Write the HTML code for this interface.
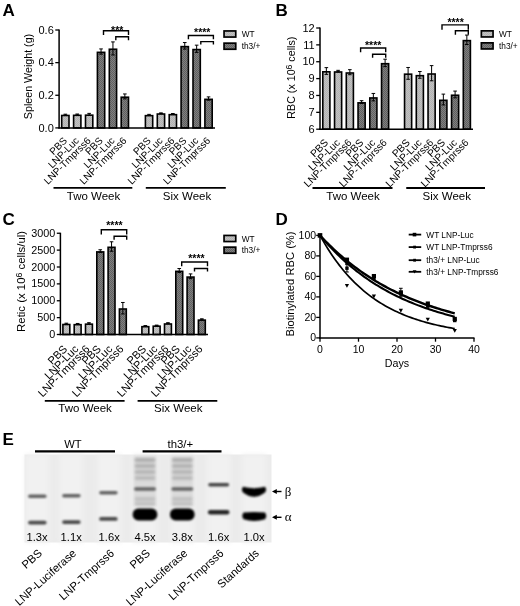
<!DOCTYPE html>
<html><head><meta charset="utf-8"><style>
html,body{margin:0;padding:0;background:#fff;}
svg{display:block;filter:grayscale(1);}
text{font-family:"Liberation Sans", sans-serif;fill:#000;}
</style></head><body>
<svg width="520" height="606" viewBox="0 0 520 606">
<defs>
<pattern id="pl" width="2" height="2" patternUnits="userSpaceOnUse"><rect width="2" height="2" fill="#c2c2c2"/><rect width="1" height="1" fill="#b2b2b2"/><rect x="1" y="1" width="1" height="1" fill="#b2b2b2"/></pattern>
<pattern id="pd" width="2" height="2" patternUnits="userSpaceOnUse"><rect width="2" height="2" fill="#808080"/><rect width="1" height="1" fill="#606060"/><rect x="1" y="1" width="1" height="1" fill="#606060"/></pattern>
<filter id="blur" x="-20%" y="-50%" width="140%" height="200%"><feGaussianBlur stdDeviation="0.9"/></filter>
<filter id="blur2" x="-20%" y="-80%" width="140%" height="260%"><feGaussianBlur stdDeviation="1.6"/></filter>
<filter id="blur3" x="-30%" y="-10%" width="160%" height="120%"><feGaussianBlur stdDeviation="2.5"/></filter>
</defs>
<rect width="520" height="606" fill="#fff"/>
<rect x="61.70" y="115.48" width="7.30" height="12.42" fill="url(#pl)" stroke="#000" stroke-width="1.6"/>
<line x1="65.35" y1="114.19" x2="65.35" y2="115.17" stroke="#000" stroke-width="1.0"/>
<line x1="63.55" y1="114.19" x2="67.15" y2="114.19" stroke="#000" stroke-width="1.0"/>
<line x1="63.55" y1="115.17" x2="67.15" y2="115.17" stroke="#000" stroke-width="1.0"/>
<rect x="73.60" y="115.32" width="7.30" height="12.58" fill="url(#pl)" stroke="#000" stroke-width="1.6"/>
<line x1="77.25" y1="114.03" x2="77.25" y2="115.01" stroke="#000" stroke-width="1.0"/>
<line x1="75.45" y1="114.03" x2="79.05" y2="114.03" stroke="#000" stroke-width="1.0"/>
<line x1="75.45" y1="115.01" x2="79.05" y2="115.01" stroke="#000" stroke-width="1.0"/>
<rect x="85.50" y="115.16" width="7.30" height="12.74" fill="url(#pl)" stroke="#000" stroke-width="1.6"/>
<line x1="89.15" y1="113.38" x2="89.15" y2="115.34" stroke="#000" stroke-width="1.0"/>
<line x1="87.35" y1="113.38" x2="90.95" y2="113.38" stroke="#000" stroke-width="1.0"/>
<line x1="87.35" y1="115.34" x2="90.95" y2="115.34" stroke="#000" stroke-width="1.0"/>
<rect x="97.40" y="52.34" width="7.30" height="75.56" fill="url(#pd)" stroke="#000" stroke-width="1.6"/>
<line x1="101.05" y1="48.93" x2="101.05" y2="54.15" stroke="#000" stroke-width="1.0"/>
<line x1="99.25" y1="48.93" x2="102.85" y2="48.93" stroke="#000" stroke-width="1.0"/>
<line x1="99.25" y1="54.15" x2="102.85" y2="54.15" stroke="#000" stroke-width="1.0"/>
<rect x="109.30" y="49.24" width="7.30" height="78.66" fill="url(#pd)" stroke="#000" stroke-width="1.6"/>
<line x1="112.95" y1="41.91" x2="112.95" y2="54.96" stroke="#000" stroke-width="1.0"/>
<line x1="111.15" y1="41.91" x2="114.75" y2="41.91" stroke="#000" stroke-width="1.0"/>
<line x1="111.15" y1="54.96" x2="114.75" y2="54.96" stroke="#000" stroke-width="1.0"/>
<rect x="121.20" y="97.21" width="7.30" height="30.69" fill="url(#pd)" stroke="#000" stroke-width="1.6"/>
<line x1="124.85" y1="93.96" x2="124.85" y2="98.86" stroke="#000" stroke-width="1.0"/>
<line x1="123.05" y1="93.96" x2="126.65" y2="93.96" stroke="#000" stroke-width="1.0"/>
<line x1="123.05" y1="98.86" x2="126.65" y2="98.86" stroke="#000" stroke-width="1.0"/>
<rect x="145.40" y="115.65" width="7.30" height="12.25" fill="url(#pl)" stroke="#000" stroke-width="1.6"/>
<line x1="149.05" y1="114.36" x2="149.05" y2="115.34" stroke="#000" stroke-width="1.0"/>
<line x1="147.25" y1="114.36" x2="150.85" y2="114.36" stroke="#000" stroke-width="1.0"/>
<line x1="147.25" y1="115.34" x2="150.85" y2="115.34" stroke="#000" stroke-width="1.0"/>
<rect x="157.30" y="114.02" width="7.30" height="13.89" fill="url(#pl)" stroke="#000" stroke-width="1.6"/>
<line x1="160.95" y1="112.89" x2="160.95" y2="113.54" stroke="#000" stroke-width="1.0"/>
<line x1="159.15" y1="112.89" x2="162.75" y2="112.89" stroke="#000" stroke-width="1.0"/>
<line x1="159.15" y1="113.54" x2="162.75" y2="113.54" stroke="#000" stroke-width="1.0"/>
<rect x="169.20" y="114.67" width="7.30" height="13.23" fill="url(#pl)" stroke="#000" stroke-width="1.6"/>
<line x1="172.85" y1="113.54" x2="172.85" y2="114.19" stroke="#000" stroke-width="1.0"/>
<line x1="171.05" y1="113.54" x2="174.65" y2="113.54" stroke="#000" stroke-width="1.0"/>
<line x1="171.05" y1="114.19" x2="174.65" y2="114.19" stroke="#000" stroke-width="1.0"/>
<rect x="181.10" y="46.63" width="7.30" height="81.27" fill="url(#pd)" stroke="#000" stroke-width="1.6"/>
<line x1="184.75" y1="42.56" x2="184.75" y2="49.09" stroke="#000" stroke-width="1.0"/>
<line x1="182.95" y1="42.56" x2="186.55" y2="42.56" stroke="#000" stroke-width="1.0"/>
<line x1="182.95" y1="49.09" x2="186.55" y2="49.09" stroke="#000" stroke-width="1.0"/>
<rect x="193.00" y="49.56" width="7.30" height="78.34" fill="url(#pd)" stroke="#000" stroke-width="1.6"/>
<line x1="196.65" y1="45.17" x2="196.65" y2="52.35" stroke="#000" stroke-width="1.0"/>
<line x1="194.85" y1="45.17" x2="198.45" y2="45.17" stroke="#000" stroke-width="1.0"/>
<line x1="194.85" y1="52.35" x2="198.45" y2="52.35" stroke="#000" stroke-width="1.0"/>
<rect x="204.90" y="99.33" width="7.30" height="28.57" fill="url(#pd)" stroke="#000" stroke-width="1.6"/>
<line x1="208.55" y1="96.90" x2="208.55" y2="100.16" stroke="#000" stroke-width="1.0"/>
<line x1="206.75" y1="96.90" x2="210.35" y2="96.90" stroke="#000" stroke-width="1.0"/>
<line x1="206.75" y1="100.16" x2="210.35" y2="100.16" stroke="#000" stroke-width="1.0"/>
<line x1="59.10" y1="29.50" x2="59.10" y2="128.60" stroke="#000" stroke-width="1.5"/>
<line x1="58.40" y1="127.90" x2="215.00" y2="127.90" stroke="#000" stroke-width="1.5"/>
<line x1="55.30" y1="127.90" x2="59.10" y2="127.90" stroke="#000" stroke-width="1.3"/>
<text x="53.80" y="131.53" font-size="11" text-anchor="end" font-weight="normal" >0.0</text>
<line x1="55.30" y1="95.27" x2="59.10" y2="95.27" stroke="#000" stroke-width="1.3"/>
<text x="53.80" y="98.90" font-size="11" text-anchor="end" font-weight="normal" >0.2</text>
<line x1="55.30" y1="62.63" x2="59.10" y2="62.63" stroke="#000" stroke-width="1.3"/>
<text x="53.80" y="66.26" font-size="11" text-anchor="end" font-weight="normal" >0.4</text>
<line x1="55.30" y1="30.00" x2="59.10" y2="30.00" stroke="#000" stroke-width="1.3"/>
<text x="53.80" y="33.63" font-size="11" text-anchor="end" font-weight="normal" >0.6</text>
<text transform="translate(32.30,76.50) rotate(-90)" font-size="10.7" text-anchor="middle">Spleen Weight (g)</text>
<text transform="translate(67.75,141.30) rotate(-45)" font-size="10.0" text-anchor="end">PBS</text>
<text transform="translate(79.65,141.30) rotate(-45)" font-size="10.0" text-anchor="end">LNP-Luc</text>
<text transform="translate(91.55,141.30) rotate(-45)" font-size="10.0" text-anchor="end">LNP-Tmprss6</text>
<text transform="translate(103.45,141.30) rotate(-45)" font-size="10.0" text-anchor="end">PBS</text>
<text transform="translate(115.35,141.30) rotate(-45)" font-size="10.0" text-anchor="end">LNP-Luc</text>
<text transform="translate(127.25,141.30) rotate(-45)" font-size="10.0" text-anchor="end">LNP-Tmprss6</text>
<text transform="translate(151.45,141.30) rotate(-45)" font-size="10.0" text-anchor="end">PBS</text>
<text transform="translate(163.35,141.30) rotate(-45)" font-size="10.0" text-anchor="end">LNP-Luc</text>
<text transform="translate(175.25,141.30) rotate(-45)" font-size="10.0" text-anchor="end">LNP-Tmprss6</text>
<text transform="translate(187.15,141.30) rotate(-45)" font-size="10.0" text-anchor="end">PBS</text>
<text transform="translate(199.05,141.30) rotate(-45)" font-size="10.0" text-anchor="end">LNP-Luc</text>
<text transform="translate(210.95,141.30) rotate(-45)" font-size="10.0" text-anchor="end">LNP-Tmprss6</text>
<line x1="53.50" y1="187.90" x2="132.30" y2="187.90" stroke="#000" stroke-width="1.9"/>
<text x="93.50" y="199.70" font-size="11.5" text-anchor="middle" font-weight="normal" >Two Week</text>
<line x1="145.80" y1="187.90" x2="225.80" y2="187.90" stroke="#000" stroke-width="1.9"/>
<text x="187.00" y="199.70" font-size="11.5" text-anchor="middle" font-weight="normal" >Six Week</text>
<path d="M103.50,35.10 L103.50,30.70 L128.50,30.70 L128.50,35.10" fill="none" stroke="#000" stroke-width="1.4"/>
<path d="M115.80,40.30 L115.80,36.80 L128.50,36.80 L128.50,40.30" fill="none" stroke="#000" stroke-width="1.4"/>
<text x="117.20" y="33.51" font-size="10.5" text-anchor="middle" font-weight="bold" >***</text>
<path d="M188.40,39.30 L188.40,35.50 L213.40,35.50 L213.40,39.30" fill="none" stroke="#000" stroke-width="1.4"/>
<path d="M200.80,44.50 L200.80,41.60 L213.40,41.60 L213.40,44.50" fill="none" stroke="#000" stroke-width="1.4"/>
<text x="202.30" y="36.41" font-size="10.5" text-anchor="middle" font-weight="bold" >****</text>
<rect x="224.05" y="30.95" width="11.70" height="6.10" fill="url(#pl)" stroke="#000" stroke-width="1.7"/>
<text x="241.70" y="37.10" font-size="8.3" text-anchor="start" font-weight="normal" >WT</text>
<rect x="224.05" y="43.15" width="11.70" height="6.10" fill="url(#pd)" stroke="#000" stroke-width="1.7"/>
<text x="241.70" y="49.30" font-size="8.3" text-anchor="start" font-weight="normal" >th3/+</text>
<text x="2.50" y="16.00" font-size="17" text-anchor="start" font-weight="bold" >A</text>
<rect x="322.80" y="71.81" width="7.10" height="57.39" fill="url(#pl)" stroke="#000" stroke-width="1.6"/>
<line x1="326.35" y1="67.64" x2="326.35" y2="74.38" stroke="#000" stroke-width="1.0"/>
<line x1="324.55" y1="67.64" x2="328.15" y2="67.64" stroke="#000" stroke-width="1.0"/>
<line x1="324.55" y1="74.38" x2="328.15" y2="74.38" stroke="#000" stroke-width="1.0"/>
<rect x="334.55" y="71.98" width="7.10" height="57.22" fill="url(#pl)" stroke="#000" stroke-width="1.6"/>
<line x1="338.10" y1="70.34" x2="338.10" y2="72.02" stroke="#000" stroke-width="1.0"/>
<line x1="336.30" y1="70.34" x2="339.90" y2="70.34" stroke="#000" stroke-width="1.0"/>
<line x1="336.30" y1="72.02" x2="339.90" y2="72.02" stroke="#000" stroke-width="1.0"/>
<rect x="346.30" y="72.99" width="7.10" height="56.21" fill="url(#pl)" stroke="#000" stroke-width="1.6"/>
<line x1="349.85" y1="69.66" x2="349.85" y2="74.72" stroke="#000" stroke-width="1.0"/>
<line x1="348.05" y1="69.66" x2="351.65" y2="69.66" stroke="#000" stroke-width="1.0"/>
<line x1="348.05" y1="74.72" x2="351.65" y2="74.72" stroke="#000" stroke-width="1.0"/>
<rect x="358.05" y="102.84" width="7.10" height="26.36" fill="url(#pd)" stroke="#000" stroke-width="1.6"/>
<line x1="361.60" y1="100.70" x2="361.60" y2="103.39" stroke="#000" stroke-width="1.0"/>
<line x1="359.80" y1="100.70" x2="363.40" y2="100.70" stroke="#000" stroke-width="1.0"/>
<line x1="359.80" y1="103.39" x2="363.40" y2="103.39" stroke="#000" stroke-width="1.0"/>
<rect x="369.80" y="97.95" width="7.10" height="31.25" fill="url(#pd)" stroke="#000" stroke-width="1.6"/>
<line x1="373.35" y1="93.44" x2="373.35" y2="100.86" stroke="#000" stroke-width="1.0"/>
<line x1="371.55" y1="93.44" x2="375.15" y2="93.44" stroke="#000" stroke-width="1.0"/>
<line x1="371.55" y1="100.86" x2="375.15" y2="100.86" stroke="#000" stroke-width="1.0"/>
<rect x="381.55" y="63.71" width="7.10" height="65.49" fill="url(#pd)" stroke="#000" stroke-width="1.6"/>
<line x1="385.10" y1="59.20" x2="385.10" y2="66.62" stroke="#000" stroke-width="1.0"/>
<line x1="383.30" y1="59.20" x2="386.90" y2="59.20" stroke="#000" stroke-width="1.0"/>
<line x1="383.30" y1="66.62" x2="386.90" y2="66.62" stroke="#000" stroke-width="1.0"/>
<rect x="404.55" y="74.17" width="7.10" height="55.03" fill="url(#pl)" stroke="#000" stroke-width="1.6"/>
<line x1="408.10" y1="67.47" x2="408.10" y2="79.27" stroke="#000" stroke-width="1.0"/>
<line x1="406.30" y1="67.47" x2="409.90" y2="67.47" stroke="#000" stroke-width="1.0"/>
<line x1="406.30" y1="79.27" x2="409.90" y2="79.27" stroke="#000" stroke-width="1.0"/>
<rect x="416.30" y="75.69" width="7.10" height="53.51" fill="url(#pl)" stroke="#000" stroke-width="1.6"/>
<line x1="419.85" y1="71.52" x2="419.85" y2="78.26" stroke="#000" stroke-width="1.0"/>
<line x1="418.05" y1="71.52" x2="421.65" y2="71.52" stroke="#000" stroke-width="1.0"/>
<line x1="418.05" y1="78.26" x2="421.65" y2="78.26" stroke="#000" stroke-width="1.0"/>
<rect x="428.05" y="74.00" width="7.10" height="55.20" fill="url(#pl)" stroke="#000" stroke-width="1.6"/>
<line x1="431.60" y1="65.61" x2="431.60" y2="80.79" stroke="#000" stroke-width="1.0"/>
<line x1="429.80" y1="65.61" x2="433.40" y2="65.61" stroke="#000" stroke-width="1.0"/>
<line x1="429.80" y1="80.79" x2="433.40" y2="80.79" stroke="#000" stroke-width="1.0"/>
<rect x="439.80" y="100.31" width="7.10" height="28.89" fill="url(#pd)" stroke="#000" stroke-width="1.6"/>
<line x1="443.35" y1="94.12" x2="443.35" y2="104.91" stroke="#000" stroke-width="1.0"/>
<line x1="441.55" y1="94.12" x2="445.15" y2="94.12" stroke="#000" stroke-width="1.0"/>
<line x1="441.55" y1="104.91" x2="445.15" y2="104.91" stroke="#000" stroke-width="1.0"/>
<rect x="451.55" y="95.25" width="7.10" height="33.95" fill="url(#pd)" stroke="#000" stroke-width="1.6"/>
<line x1="455.10" y1="91.08" x2="455.10" y2="97.83" stroke="#000" stroke-width="1.0"/>
<line x1="453.30" y1="91.08" x2="456.90" y2="91.08" stroke="#000" stroke-width="1.0"/>
<line x1="453.30" y1="97.83" x2="456.90" y2="97.83" stroke="#000" stroke-width="1.0"/>
<rect x="463.30" y="40.61" width="7.10" height="88.59" fill="url(#pd)" stroke="#000" stroke-width="1.6"/>
<line x1="466.85" y1="35.08" x2="466.85" y2="44.53" stroke="#000" stroke-width="1.0"/>
<line x1="465.05" y1="35.08" x2="468.65" y2="35.08" stroke="#000" stroke-width="1.0"/>
<line x1="465.05" y1="44.53" x2="468.65" y2="44.53" stroke="#000" stroke-width="1.0"/>
<line x1="320.00" y1="27.50" x2="320.00" y2="129.90" stroke="#000" stroke-width="1.5"/>
<line x1="319.30" y1="129.20" x2="473.00" y2="129.20" stroke="#000" stroke-width="1.5"/>
<line x1="316.20" y1="129.20" x2="320.00" y2="129.20" stroke="#000" stroke-width="1.3"/>
<text x="314.70" y="132.83" font-size="11" text-anchor="end" font-weight="normal" >6</text>
<line x1="316.20" y1="112.33" x2="320.00" y2="112.33" stroke="#000" stroke-width="1.3"/>
<text x="314.70" y="115.96" font-size="11" text-anchor="end" font-weight="normal" >7</text>
<line x1="316.20" y1="95.47" x2="320.00" y2="95.47" stroke="#000" stroke-width="1.3"/>
<text x="314.70" y="99.10" font-size="11" text-anchor="end" font-weight="normal" >8</text>
<line x1="316.20" y1="78.60" x2="320.00" y2="78.60" stroke="#000" stroke-width="1.3"/>
<text x="314.70" y="82.23" font-size="11" text-anchor="end" font-weight="normal" >9</text>
<line x1="316.20" y1="61.73" x2="320.00" y2="61.73" stroke="#000" stroke-width="1.3"/>
<text x="314.70" y="65.36" font-size="11" text-anchor="end" font-weight="normal" >10</text>
<line x1="316.20" y1="44.87" x2="320.00" y2="44.87" stroke="#000" stroke-width="1.3"/>
<text x="314.70" y="48.50" font-size="11" text-anchor="end" font-weight="normal" >11</text>
<line x1="316.20" y1="28.00" x2="320.00" y2="28.00" stroke="#000" stroke-width="1.3"/>
<text x="314.70" y="31.63" font-size="11" text-anchor="end" font-weight="normal" >12</text>
<text transform="translate(295.00,77.70) rotate(-90)" font-size="10.7" text-anchor="middle">RBC (x 10<tspan dy="-2.8" font-size="8.6">6</tspan><tspan dy="2.8"> cells)</tspan></text>
<text transform="translate(328.85,143.30) rotate(-45)" font-size="10.2" text-anchor="end">PBS</text>
<text transform="translate(340.60,143.30) rotate(-45)" font-size="10.2" text-anchor="end">LNP-Luc</text>
<text transform="translate(352.35,143.30) rotate(-45)" font-size="10.2" text-anchor="end">LNP-Tmprss6</text>
<text transform="translate(364.10,143.30) rotate(-45)" font-size="10.2" text-anchor="end">PBS</text>
<text transform="translate(375.85,143.30) rotate(-45)" font-size="10.2" text-anchor="end">LNP-Luc</text>
<text transform="translate(387.60,143.30) rotate(-45)" font-size="10.2" text-anchor="end">LNP-Tmprss6</text>
<text transform="translate(410.60,143.30) rotate(-45)" font-size="10.2" text-anchor="end">PBS</text>
<text transform="translate(422.35,143.30) rotate(-45)" font-size="10.2" text-anchor="end">LNP-Luc</text>
<text transform="translate(434.10,143.30) rotate(-45)" font-size="10.2" text-anchor="end">LNP-Tmprss6</text>
<text transform="translate(445.85,143.30) rotate(-45)" font-size="10.2" text-anchor="end">PBS</text>
<text transform="translate(457.60,143.30) rotate(-45)" font-size="10.2" text-anchor="end">LNP-Luc</text>
<text transform="translate(469.35,143.30) rotate(-45)" font-size="10.2" text-anchor="end">LNP-Tmprss6</text>
<line x1="312.50" y1="188.00" x2="392.50" y2="188.00" stroke="#000" stroke-width="1.9"/>
<text x="353.00" y="199.80" font-size="11.5" text-anchor="middle" font-weight="normal" >Two Week</text>
<line x1="406.25" y1="188.00" x2="485.00" y2="188.00" stroke="#000" stroke-width="1.9"/>
<text x="446.80" y="199.80" font-size="11.5" text-anchor="middle" font-weight="normal" >Six Week</text>
<path d="M360.60,52.30 L360.60,48.00 L385.70,48.00 L385.70,52.30" fill="none" stroke="#000" stroke-width="1.4"/>
<path d="M372.60,57.70 L372.60,54.20 L385.70,54.20 L385.70,57.70" fill="none" stroke="#000" stroke-width="1.4"/>
<text x="373.20" y="48.51" font-size="10.5" text-anchor="middle" font-weight="bold" >****</text>
<path d="M442.00,29.80 L442.00,24.90 L468.30,24.90 L468.30,29.80" fill="none" stroke="#000" stroke-width="1.4"/>
<path d="M455.40,34.80 L455.40,30.80 L468.30,30.80 L468.30,34.80" fill="none" stroke="#000" stroke-width="1.4"/>
<text x="455.60" y="25.51" font-size="10.5" text-anchor="middle" font-weight="bold" >****</text>
<rect x="481.35" y="30.85" width="11.70" height="6.10" fill="url(#pl)" stroke="#000" stroke-width="1.7"/>
<text x="499.00" y="37.00" font-size="8.3" text-anchor="start" font-weight="normal" >WT</text>
<rect x="481.35" y="42.85" width="11.70" height="6.10" fill="url(#pd)" stroke="#000" stroke-width="1.7"/>
<text x="499.00" y="49.00" font-size="8.3" text-anchor="start" font-weight="normal" >th3/+</text>
<text x="275.50" y="16.00" font-size="17" text-anchor="start" font-weight="bold" >B</text>
<rect x="62.90" y="324.50" width="6.90" height="10.00" fill="url(#pl)" stroke="#000" stroke-width="1.6"/>
<line x1="66.35" y1="323.19" x2="66.35" y2="324.21" stroke="#000" stroke-width="1.0"/>
<line x1="64.55" y1="323.19" x2="68.15" y2="323.19" stroke="#000" stroke-width="1.0"/>
<line x1="64.55" y1="324.21" x2="68.15" y2="324.21" stroke="#000" stroke-width="1.0"/>
<rect x="74.20" y="324.67" width="6.90" height="9.83" fill="url(#pl)" stroke="#000" stroke-width="1.6"/>
<line x1="77.65" y1="323.46" x2="77.65" y2="324.27" stroke="#000" stroke-width="1.0"/>
<line x1="75.85" y1="323.46" x2="79.45" y2="323.46" stroke="#000" stroke-width="1.0"/>
<line x1="75.85" y1="324.27" x2="79.45" y2="324.27" stroke="#000" stroke-width="1.0"/>
<rect x="85.50" y="324.16" width="6.90" height="10.34" fill="url(#pl)" stroke="#000" stroke-width="1.6"/>
<line x1="88.95" y1="322.69" x2="88.95" y2="324.04" stroke="#000" stroke-width="1.0"/>
<line x1="87.15" y1="322.69" x2="90.75" y2="322.69" stroke="#000" stroke-width="1.0"/>
<line x1="87.15" y1="324.04" x2="90.75" y2="324.04" stroke="#000" stroke-width="1.0"/>
<rect x="96.80" y="251.90" width="6.90" height="82.60" fill="url(#pd)" stroke="#000" stroke-width="1.6"/>
<line x1="100.25" y1="249.75" x2="100.25" y2="252.45" stroke="#000" stroke-width="1.0"/>
<line x1="98.45" y1="249.75" x2="102.05" y2="249.75" stroke="#000" stroke-width="1.0"/>
<line x1="98.45" y1="252.45" x2="102.05" y2="252.45" stroke="#000" stroke-width="1.0"/>
<rect x="108.10" y="247.31" width="6.90" height="87.19" fill="url(#pd)" stroke="#000" stroke-width="1.6"/>
<line x1="111.55" y1="241.79" x2="111.55" y2="251.24" stroke="#000" stroke-width="1.0"/>
<line x1="109.75" y1="241.79" x2="113.35" y2="241.79" stroke="#000" stroke-width="1.0"/>
<line x1="109.75" y1="251.24" x2="113.35" y2="251.24" stroke="#000" stroke-width="1.0"/>
<rect x="119.40" y="309.01" width="6.90" height="25.49" fill="url(#pd)" stroke="#000" stroke-width="1.6"/>
<line x1="122.85" y1="302.47" x2="122.85" y2="313.95" stroke="#000" stroke-width="1.0"/>
<line x1="121.05" y1="302.47" x2="124.65" y2="302.47" stroke="#000" stroke-width="1.0"/>
<line x1="121.05" y1="313.95" x2="124.65" y2="313.95" stroke="#000" stroke-width="1.0"/>
<rect x="141.90" y="326.69" width="6.90" height="7.81" fill="url(#pl)" stroke="#000" stroke-width="1.6"/>
<line x1="145.35" y1="325.62" x2="145.35" y2="326.16" stroke="#000" stroke-width="1.0"/>
<line x1="143.55" y1="325.62" x2="147.15" y2="325.62" stroke="#000" stroke-width="1.0"/>
<line x1="143.55" y1="326.16" x2="147.15" y2="326.16" stroke="#000" stroke-width="1.0"/>
<rect x="153.20" y="326.19" width="6.90" height="8.31" fill="url(#pl)" stroke="#000" stroke-width="1.6"/>
<line x1="156.65" y1="325.12" x2="156.65" y2="325.66" stroke="#000" stroke-width="1.0"/>
<line x1="154.85" y1="325.12" x2="158.45" y2="325.12" stroke="#000" stroke-width="1.0"/>
<line x1="154.85" y1="325.66" x2="158.45" y2="325.66" stroke="#000" stroke-width="1.0"/>
<rect x="164.50" y="323.99" width="6.90" height="10.51" fill="url(#pl)" stroke="#000" stroke-width="1.6"/>
<line x1="167.95" y1="322.69" x2="167.95" y2="323.70" stroke="#000" stroke-width="1.0"/>
<line x1="166.15" y1="322.69" x2="169.75" y2="322.69" stroke="#000" stroke-width="1.0"/>
<line x1="166.15" y1="323.70" x2="169.75" y2="323.70" stroke="#000" stroke-width="1.0"/>
<rect x="175.80" y="271.34" width="6.90" height="63.16" fill="url(#pd)" stroke="#000" stroke-width="1.6"/>
<line x1="179.25" y1="268.52" x2="179.25" y2="272.57" stroke="#000" stroke-width="1.0"/>
<line x1="177.45" y1="268.52" x2="181.05" y2="268.52" stroke="#000" stroke-width="1.0"/>
<line x1="177.45" y1="272.57" x2="181.05" y2="272.57" stroke="#000" stroke-width="1.0"/>
<rect x="187.10" y="277.08" width="6.90" height="57.42" fill="url(#pd)" stroke="#000" stroke-width="1.6"/>
<line x1="190.55" y1="273.92" x2="190.55" y2="278.64" stroke="#000" stroke-width="1.0"/>
<line x1="188.75" y1="273.92" x2="192.35" y2="273.92" stroke="#000" stroke-width="1.0"/>
<line x1="188.75" y1="278.64" x2="192.35" y2="278.64" stroke="#000" stroke-width="1.0"/>
<rect x="198.40" y="320.11" width="6.90" height="14.39" fill="url(#pd)" stroke="#000" stroke-width="1.6"/>
<line x1="201.85" y1="318.81" x2="201.85" y2="319.82" stroke="#000" stroke-width="1.0"/>
<line x1="200.05" y1="318.81" x2="203.65" y2="318.81" stroke="#000" stroke-width="1.0"/>
<line x1="200.05" y1="319.82" x2="203.65" y2="319.82" stroke="#000" stroke-width="1.0"/>
<line x1="60.40" y1="232.75" x2="60.40" y2="335.20" stroke="#000" stroke-width="1.5"/>
<line x1="59.70" y1="334.50" x2="208.00" y2="334.50" stroke="#000" stroke-width="1.5"/>
<line x1="56.80" y1="334.50" x2="60.40" y2="334.50" stroke="#000" stroke-width="1.3"/>
<text x="55.30" y="338.06" font-size="10.8" text-anchor="end" font-weight="normal" >0</text>
<line x1="56.80" y1="317.62" x2="60.40" y2="317.62" stroke="#000" stroke-width="1.3"/>
<text x="55.30" y="321.19" font-size="10.8" text-anchor="end" font-weight="normal" >500</text>
<line x1="56.80" y1="300.75" x2="60.40" y2="300.75" stroke="#000" stroke-width="1.3"/>
<text x="55.30" y="304.31" font-size="10.8" text-anchor="end" font-weight="normal" >1000</text>
<line x1="56.80" y1="283.88" x2="60.40" y2="283.88" stroke="#000" stroke-width="1.3"/>
<text x="55.30" y="287.44" font-size="10.8" text-anchor="end" font-weight="normal" >1500</text>
<line x1="56.80" y1="267.00" x2="60.40" y2="267.00" stroke="#000" stroke-width="1.3"/>
<text x="55.30" y="270.56" font-size="10.8" text-anchor="end" font-weight="normal" >2000</text>
<line x1="56.80" y1="250.12" x2="60.40" y2="250.12" stroke="#000" stroke-width="1.3"/>
<text x="55.30" y="253.69" font-size="10.8" text-anchor="end" font-weight="normal" >2500</text>
<line x1="56.80" y1="233.25" x2="60.40" y2="233.25" stroke="#000" stroke-width="1.3"/>
<text x="55.30" y="236.81" font-size="10.8" text-anchor="end" font-weight="normal" >3000</text>
<text transform="translate(25.00,281.40) rotate(-90)" font-size="11.4" text-anchor="middle">Retic (x 10<tspan dy="-2.8" font-size="8.6">6</tspan><tspan dy="2.8"> cells/ul)</tspan></text>
<text transform="translate(67.85,349.70) rotate(-45)" font-size="11.0" text-anchor="end">PBS</text>
<text transform="translate(79.15,349.70) rotate(-45)" font-size="11.0" text-anchor="end">LNP-Luc</text>
<text transform="translate(90.45,349.70) rotate(-45)" font-size="11.0" text-anchor="end">LNP-Tmprss6</text>
<text transform="translate(101.75,349.70) rotate(-45)" font-size="11.0" text-anchor="end">PBS</text>
<text transform="translate(113.05,349.70) rotate(-45)" font-size="11.0" text-anchor="end">LNP-Luc</text>
<text transform="translate(124.35,349.70) rotate(-45)" font-size="11.0" text-anchor="end">LNP-Tmprss6</text>
<text transform="translate(146.85,349.70) rotate(-45)" font-size="11.0" text-anchor="end">PBS</text>
<text transform="translate(158.15,349.70) rotate(-45)" font-size="11.0" text-anchor="end">LNP-Luc</text>
<text transform="translate(169.45,349.70) rotate(-45)" font-size="11.0" text-anchor="end">LNP-Tmprss6</text>
<text transform="translate(180.75,349.70) rotate(-45)" font-size="11.0" text-anchor="end">PBS</text>
<text transform="translate(192.05,349.70) rotate(-45)" font-size="11.0" text-anchor="end">LNP-Luc</text>
<text transform="translate(203.35,349.70) rotate(-45)" font-size="11.0" text-anchor="end">LNP-Tmprss6</text>
<line x1="44.80" y1="400.90" x2="124.60" y2="400.90" stroke="#000" stroke-width="1.9"/>
<text x="85.10" y="412.40" font-size="11.5" text-anchor="middle" font-weight="normal" >Two Week</text>
<line x1="137.60" y1="400.90" x2="217.30" y2="400.90" stroke="#000" stroke-width="1.9"/>
<text x="178.30" y="412.40" font-size="11.5" text-anchor="middle" font-weight="normal" >Six Week</text>
<path d="M101.30,234.60 L101.30,229.80 L126.70,229.80 L126.70,234.60" fill="none" stroke="#000" stroke-width="1.4"/>
<path d="M114.10,239.70 L114.10,236.20 L126.70,236.20 L126.70,239.70" fill="none" stroke="#000" stroke-width="1.4"/>
<text x="114.40" y="229.31" font-size="10.5" text-anchor="middle" font-weight="bold" >****</text>
<path d="M181.70,266.20 L181.70,262.00 L207.50,262.00 L207.50,266.20" fill="none" stroke="#000" stroke-width="1.4"/>
<path d="M194.50,271.50 L194.50,268.50 L207.50,268.50 L207.50,271.50" fill="none" stroke="#000" stroke-width="1.4"/>
<text x="196.40" y="261.81" font-size="10.5" text-anchor="middle" font-weight="bold" >****</text>
<rect x="224.05" y="235.45" width="11.70" height="6.10" fill="url(#pl)" stroke="#000" stroke-width="1.7"/>
<text x="241.70" y="241.60" font-size="8.3" text-anchor="start" font-weight="normal" >WT</text>
<rect x="224.05" y="247.15" width="11.70" height="6.10" fill="url(#pd)" stroke="#000" stroke-width="1.7"/>
<text x="241.70" y="253.30" font-size="8.3" text-anchor="start" font-weight="normal" >th3/+</text>
<text x="2.50" y="224.70" font-size="17" text-anchor="start" font-weight="bold" >C</text>
<line x1="320.00" y1="234.70" x2="320.00" y2="338.60" stroke="#000" stroke-width="1.5"/>
<line x1="319.30" y1="337.90" x2="474.50" y2="337.90" stroke="#000" stroke-width="1.5"/>
<line x1="316.20" y1="337.90" x2="320.00" y2="337.90" stroke="#000" stroke-width="1.3"/>
<text x="316.10" y="341.26" font-size="10.5" text-anchor="end" font-weight="normal" >0</text>
<line x1="316.20" y1="317.40" x2="320.00" y2="317.40" stroke="#000" stroke-width="1.3"/>
<text x="316.10" y="320.76" font-size="10.5" text-anchor="end" font-weight="normal" >20</text>
<line x1="316.20" y1="296.90" x2="320.00" y2="296.90" stroke="#000" stroke-width="1.3"/>
<text x="316.10" y="300.26" font-size="10.5" text-anchor="end" font-weight="normal" >40</text>
<line x1="316.20" y1="276.40" x2="320.00" y2="276.40" stroke="#000" stroke-width="1.3"/>
<text x="316.10" y="279.76" font-size="10.5" text-anchor="end" font-weight="normal" >60</text>
<line x1="316.20" y1="255.90" x2="320.00" y2="255.90" stroke="#000" stroke-width="1.3"/>
<text x="316.10" y="259.26" font-size="10.5" text-anchor="end" font-weight="normal" >80</text>
<line x1="316.20" y1="235.40" x2="320.00" y2="235.40" stroke="#000" stroke-width="1.3"/>
<text x="316.10" y="238.76" font-size="10.5" text-anchor="end" font-weight="normal" >100</text>
<line x1="320.00" y1="337.90" x2="320.00" y2="341.70" stroke="#000" stroke-width="1.3"/>
<text x="320.00" y="352.90" font-size="10.5" text-anchor="middle" font-weight="normal" >0</text>
<line x1="358.50" y1="337.90" x2="358.50" y2="341.70" stroke="#000" stroke-width="1.3"/>
<text x="358.50" y="352.90" font-size="10.5" text-anchor="middle" font-weight="normal" >10</text>
<line x1="397.00" y1="337.90" x2="397.00" y2="341.70" stroke="#000" stroke-width="1.3"/>
<text x="397.00" y="352.90" font-size="10.5" text-anchor="middle" font-weight="normal" >20</text>
<line x1="435.50" y1="337.90" x2="435.50" y2="341.70" stroke="#000" stroke-width="1.3"/>
<text x="435.50" y="352.90" font-size="10.5" text-anchor="middle" font-weight="normal" >30</text>
<line x1="474.00" y1="337.90" x2="474.00" y2="341.70" stroke="#000" stroke-width="1.3"/>
<text x="474.00" y="352.90" font-size="10.5" text-anchor="middle" font-weight="normal" >40</text>
<text x="397.00" y="366.50" font-size="10.7" text-anchor="middle" font-weight="normal" >Days</text>
<text transform="translate(293.6,284.0) rotate(-90)" font-size="11.2" text-anchor="middle">Biotinylated RBC (%)</text>
<polyline points="320.00,235.40 321.93,237.47 323.85,239.50 325.77,241.48 327.70,243.43 329.62,245.34 331.55,247.21 333.48,249.04 335.40,250.83 337.32,252.59 339.25,254.32 341.18,256.00 343.10,257.66 345.02,259.28 346.95,260.86 348.88,262.42 350.80,263.94 352.73,265.44 354.65,266.90 356.57,268.33 358.50,269.74 360.43,271.12 362.35,272.46 364.27,273.79 366.20,275.08 368.12,276.35 370.05,277.59 371.98,278.81 373.90,280.00 375.82,281.17 377.75,282.32 379.68,283.44 381.60,284.54 383.52,285.62 385.45,286.67 387.38,287.71 389.30,288.72 391.23,289.71 393.15,290.69 395.07,291.64 397.00,292.57 398.93,293.49 400.85,294.39 402.77,295.27 404.70,296.13 406.62,296.97 408.55,297.80 410.48,298.61 412.40,299.40 414.32,300.18 416.25,300.94 418.18,301.69 420.10,302.42 422.02,303.13 423.95,303.84 425.88,304.52 427.80,305.20 429.73,305.86 431.65,306.50 433.57,307.14 435.50,307.76 437.43,308.37 439.35,308.96 441.27,309.55 443.20,310.12 445.12,310.68 447.05,311.23 448.98,311.77 450.90,312.30 452.83,312.82 454.75,313.32" fill="none" stroke="#000" stroke-width="2.4"/>
<polyline points="320.00,235.40 321.93,237.68 323.85,239.91 325.77,242.09 327.70,244.22 329.62,246.31 331.55,248.34 333.48,250.34 335.40,252.28 337.32,254.19 339.25,256.05 341.18,257.87 343.10,259.65 345.02,261.39 346.95,263.10 348.88,264.76 350.80,266.39 352.73,267.98 354.65,269.53 356.57,271.06 358.50,272.54 360.43,274.00 362.35,275.42 364.27,276.81 366.20,278.17 368.12,279.50 370.05,280.80 371.98,282.07 373.90,283.31 375.82,284.52 377.75,285.71 379.68,286.87 381.60,288.01 383.52,289.12 385.45,290.20 387.38,291.26 389.30,292.30 391.23,293.32 393.15,294.31 395.07,295.28 397.00,296.23 398.93,297.15 400.85,298.06 402.77,298.95 404.70,299.81 406.62,300.66 408.55,301.49 410.48,302.30 412.40,303.09 414.32,303.87 416.25,304.62 418.18,305.36 420.10,306.09 422.02,306.80 423.95,307.49 425.88,308.16 427.80,308.83 429.73,309.47 431.65,310.10 433.57,310.72 435.50,311.33 437.43,311.92 439.35,312.50 441.27,313.06 443.20,313.61 445.12,314.16 447.05,314.68 448.98,315.20 450.90,315.71 452.83,316.20 454.75,316.68" fill="none" stroke="#000" stroke-width="2.1"/>
<polyline points="320.00,235.40 321.93,238.85 323.85,242.19 325.77,245.41 327.70,248.52 329.62,251.53 331.55,254.44 333.48,257.25 335.40,259.97 337.32,262.59 339.25,265.13 341.18,267.58 343.10,269.94 345.02,272.23 346.95,274.44 348.88,276.58 350.80,278.64 352.73,280.64 354.65,282.57 356.57,284.43 358.50,286.23 360.43,287.97 362.35,289.65 364.27,291.28 366.20,292.85 368.12,294.36 370.05,295.83 371.98,297.25 373.90,298.61 375.82,299.94 377.75,301.22 379.68,302.45 381.60,303.64 383.52,304.80 385.45,305.91 387.38,306.99 389.30,308.03 391.23,309.04 393.15,310.01 395.07,310.95 397.00,311.85 398.93,312.73 400.85,313.58 402.77,314.40 404.70,315.19 406.62,315.95 408.55,316.69 410.48,317.41 412.40,318.10 414.32,318.76 416.25,319.41 418.18,320.03 420.10,320.63 422.02,321.21 423.95,321.78 425.88,322.32 427.80,322.84 429.73,323.35 431.65,323.84 433.57,324.31 435.50,324.77 437.43,325.21 439.35,325.64 441.27,326.05 443.20,326.45 445.12,326.84 447.05,327.21 448.98,327.57 450.90,327.92 452.83,328.25 454.75,328.58" fill="none" stroke="#000" stroke-width="1.7"/>
<rect x="317.70" y="233.10" width="4.6" height="4.6" fill="#000"/>
<rect x="344.85" y="257.59" width="4.2" height="4.2" fill="#000"/>
<rect x="371.80" y="273.99" width="4.2" height="4.2" fill="#000"/>
<rect x="398.75" y="290.29" width="4.2" height="4.2" fill="#000"/>
<rect x="425.70" y="301.46" width="4.2" height="4.2" fill="#000"/>
<rect x="452.65" y="316.84" width="4.2" height="4.2" fill="#000"/>
<rect x="345.20" y="260.30" width="3.5" height="3.5" fill="#000"/>
<rect x="372.15" y="276.70" width="3.5" height="3.5" fill="#000"/>
<rect x="399.10" y="292.07" width="3.5" height="3.5" fill="#000"/>
<rect x="426.05" y="304.38" width="3.5" height="3.5" fill="#000"/>
<rect x="453.00" y="318.72" width="3.5" height="3.5" fill="#000"/>
<line x1="346.95" y1="264.61" x2="346.95" y2="271.99" stroke="#000" stroke-width="1.0"/>
<line x1="345.15" y1="264.61" x2="348.75" y2="264.61" stroke="#000" stroke-width="1.0"/>
<line x1="345.15" y1="271.99" x2="348.75" y2="271.99" stroke="#000" stroke-width="1.0"/>
<rect x="345.25" y="266.50" width="3.4" height="3.4" fill="#000"/>
<line x1="400.85" y1="288.29" x2="400.85" y2="296.28" stroke="#000" stroke-width="1.0"/>
<line x1="399.05" y1="288.29" x2="402.65" y2="288.29" stroke="#000" stroke-width="1.0"/>
<line x1="399.05" y1="296.28" x2="402.65" y2="296.28" stroke="#000" stroke-width="1.0"/>
<path d="M344.85,283.98 L349.05,283.98 L346.95,287.83 Z" fill="#000"/>
<path d="M371.80,294.53 L376.00,294.53 L373.90,298.38 Z" fill="#000"/>
<path d="M398.75,308.78 L402.95,308.78 L400.85,312.63 Z" fill="#000"/>
<path d="M425.70,317.70 L429.90,317.70 L427.80,321.55 Z" fill="#000"/>
<path d="M452.65,328.97 L456.85,328.97 L454.75,332.82 Z" fill="#000"/>
<line x1="408.70" y1="234.60" x2="421.20" y2="234.60" stroke="#000" stroke-width="1.8"/>
<rect x="412.7" y="232.80" width="3.6" height="3.6" fill="#000"/>
<text x="426.30" y="237.50" font-size="8.3" text-anchor="start" font-weight="normal" >WT LNP-Luc</text>
<line x1="408.70" y1="247.10" x2="421.20" y2="247.10" stroke="#000" stroke-width="1.8"/>
<rect x="413.2" y="245.70" width="2.8" height="2.8" fill="#000"/>
<text x="426.30" y="250.00" font-size="8.3" text-anchor="start" font-weight="normal" >WT LNP-Tmprss6</text>
<line x1="408.70" y1="260.20" x2="421.20" y2="260.20" stroke="#000" stroke-width="1.8"/>
<rect x="413.2" y="258.80" width="2.8" height="2.8" fill="#000"/>
<text x="426.30" y="263.10" font-size="8.3" text-anchor="start" font-weight="normal" >th3/+ LNP-Luc</text>
<line x1="408.70" y1="271.80" x2="421.20" y2="271.80" stroke="#000" stroke-width="1.8"/>
<path d="M412.7,270.30 L416.5,270.30 L414.6,273.60 Z" fill="#000"/>
<text x="426.30" y="274.70" font-size="8.3" text-anchor="start" font-weight="normal" >th3/+ LNP-Tmprss6</text>
<text x="275.50" y="224.70" font-size="17" text-anchor="start" font-weight="bold" >D</text>
<text x="2.50" y="444.50" font-size="17" text-anchor="start" font-weight="bold" >E</text>
<rect x="24.5" y="454.5" width="247" height="88" fill="#ebebeb"/>
<rect x="25.00" y="454.5" width="24" height="88" fill="#f1f1f1" filter="url(#blur3)"/>
<rect x="59.20" y="454.5" width="24" height="88" fill="#f1f1f1" filter="url(#blur3)"/>
<rect x="97.20" y="454.5" width="24" height="88" fill="#f1f1f1" filter="url(#blur3)"/>
<rect x="133.00" y="454.5" width="24" height="88" fill="#f1f1f1" filter="url(#blur3)"/>
<rect x="170.30" y="454.5" width="24" height="88" fill="#f1f1f1" filter="url(#blur3)"/>
<rect x="206.70" y="454.5" width="24" height="88" fill="#f1f1f1" filter="url(#blur3)"/>
<rect x="242.00" y="454.5" width="24" height="88" fill="#f1f1f1" filter="url(#blur3)"/>
<line x1="35.00" y1="451.30" x2="115.00" y2="451.30" stroke="#000" stroke-width="2.2"/>
<text x="73.00" y="448.30" font-size="11.2" text-anchor="middle" font-weight="normal" >WT</text>
<line x1="142.60" y1="451.30" x2="221.50" y2="451.30" stroke="#000" stroke-width="2.2"/>
<text x="180.30" y="448.30" font-size="11.4" text-anchor="middle" font-weight="normal" >th3/+</text>
<text x="37.00" y="541.00" font-size="11.2" text-anchor="middle" font-weight="normal" >1.3x</text>
<text x="71.20" y="541.00" font-size="11.2" text-anchor="middle" font-weight="normal" >1.1x</text>
<text x="109.20" y="541.00" font-size="11.2" text-anchor="middle" font-weight="normal" >1.6x</text>
<text x="145.00" y="541.00" font-size="11.2" text-anchor="middle" font-weight="normal" >4.5x</text>
<text x="182.30" y="541.00" font-size="11.2" text-anchor="middle" font-weight="normal" >3.8x</text>
<text x="218.70" y="541.00" font-size="11.2" text-anchor="middle" font-weight="normal" >1.6x</text>
<text x="254.00" y="541.00" font-size="11.2" text-anchor="middle" font-weight="normal" >1.0x</text>
<text transform="translate(42.80,554.20) rotate(-42)" font-size="11.3" text-anchor="end">PBS</text>
<text transform="translate(77.00,554.20) rotate(-42)" font-size="11.3" text-anchor="end">LNP-Luciferase</text>
<text transform="translate(115.00,554.20) rotate(-42)" font-size="11.3" text-anchor="end">LNP-Tmprss6</text>
<text transform="translate(150.80,554.20) rotate(-42)" font-size="11.3" text-anchor="end">PBS</text>
<text transform="translate(188.10,554.20) rotate(-42)" font-size="11.3" text-anchor="end">LNP-Luciferase</text>
<text transform="translate(224.50,554.20) rotate(-42)" font-size="11.3" text-anchor="end">LNP-Tmprss6</text>
<text transform="translate(259.80,554.20) rotate(-42)" font-size="11.3" text-anchor="end">Standards</text>
<rect x="28.05" y="494.40" width="18.50" height="3.60" rx="1.80" fill="#000" fill-opacity="0.6" filter="url(#blur)"/>
<rect x="28.05" y="520.70" width="18.50" height="3.80" rx="1.90" fill="#000" fill-opacity="0.7" filter="url(#blur)"/>
<rect x="62.15" y="494.00" width="18.50" height="3.60" rx="1.80" fill="#000" fill-opacity="0.6" filter="url(#blur)"/>
<rect x="62.15" y="520.20" width="18.50" height="3.80" rx="1.90" fill="#000" fill-opacity="0.7" filter="url(#blur)"/>
<rect x="99.15" y="491.00" width="18.50" height="3.60" rx="1.80" fill="#000" fill-opacity="0.6" filter="url(#blur)"/>
<rect x="99.15" y="517.00" width="18.50" height="3.80" rx="1.90" fill="#000" fill-opacity="0.7" filter="url(#blur)"/>
<rect x="134.00" y="456" width="22" height="50" fill="#000" fill-opacity="0.09" filter="url(#blur2)"/>
<rect x="134.50" y="458.20" width="21.00" height="3.60" rx="1.80" fill="#000" fill-opacity="0.24" filter="url(#blur2)"/>
<rect x="134.50" y="464.20" width="21.00" height="3.60" rx="1.80" fill="#000" fill-opacity="0.22" filter="url(#blur2)"/>
<rect x="134.50" y="470.20" width="21.00" height="3.60" rx="1.80" fill="#000" fill-opacity="0.2" filter="url(#blur2)"/>
<rect x="134.50" y="476.20" width="21.00" height="3.60" rx="1.80" fill="#000" fill-opacity="0.18" filter="url(#blur2)"/>
<rect x="134.50" y="497.20" width="21.00" height="3.60" rx="1.80" fill="#000" fill-opacity="0.14" filter="url(#blur2)"/>
<rect x="134.50" y="502.20" width="21.00" height="3.60" rx="1.80" fill="#000" fill-opacity="0.14" filter="url(#blur2)"/>
<rect x="134.00" y="487.20" width="22.00" height="3.60" rx="1.80" fill="#000" fill-opacity="0.55" filter="url(#blur)"/>
<rect x="132.70" y="508.6" width="24.6" height="11.8" rx="5.5" ry="5.5" fill="#000" filter="url(#blur)"/>
<rect x="171.30" y="456" width="22" height="50" fill="#000" fill-opacity="0.09" filter="url(#blur2)"/>
<rect x="171.80" y="458.20" width="21.00" height="3.60" rx="1.80" fill="#000" fill-opacity="0.24" filter="url(#blur2)"/>
<rect x="171.80" y="464.20" width="21.00" height="3.60" rx="1.80" fill="#000" fill-opacity="0.22" filter="url(#blur2)"/>
<rect x="171.80" y="470.20" width="21.00" height="3.60" rx="1.80" fill="#000" fill-opacity="0.2" filter="url(#blur2)"/>
<rect x="171.80" y="476.20" width="21.00" height="3.60" rx="1.80" fill="#000" fill-opacity="0.18" filter="url(#blur2)"/>
<rect x="171.80" y="497.20" width="21.00" height="3.60" rx="1.80" fill="#000" fill-opacity="0.14" filter="url(#blur2)"/>
<rect x="171.80" y="502.20" width="21.00" height="3.60" rx="1.80" fill="#000" fill-opacity="0.14" filter="url(#blur2)"/>
<rect x="171.30" y="487.20" width="22.00" height="3.60" rx="1.80" fill="#000" fill-opacity="0.55" filter="url(#blur)"/>
<rect x="170.00" y="508.6" width="24.6" height="11.8" rx="5.5" ry="5.5" fill="#000" filter="url(#blur)"/>
<rect x="208.20" y="482.90" width="21.00" height="3.60" rx="1.80" fill="#000" fill-opacity="0.72" filter="url(#blur)"/>
<rect x="207.95" y="510.00" width="21.50" height="4.40" rx="2.20" fill="#000" fill-opacity="0.85" filter="url(#blur)"/>
<path d="M243,486.8 Q240.8,489.5 243,492.6 Q254,501 265,492.6 Q267.2,489.5 265,486.8 Q254,489.6 243,486.8 Z" fill="#000" filter="url(#blur)"/>
<path d="M243.5,512.6 Q241,516.2 243.5,519.2 Q254,522.6 265,519.2 Q267.5,516.2 265,512.6 Q254,511.6 243.5,512.6 Z" fill="#000" filter="url(#blur)"/>
<line x1="275.50" y1="491.50" x2="281.50" y2="491.50" stroke="#000" stroke-width="1.4"/>
<path d="M272.0,491.50 L276.8,489.00 L276.8,494.00 Z" fill="#000"/>
<text x="284.80" y="495.50" font-size="13" text-anchor="start" font-weight="normal" font-family="Liberation Serif, serif" style="font-family:'Liberation Serif',serif">β</text>
<line x1="275.50" y1="517.30" x2="281.50" y2="517.30" stroke="#000" stroke-width="1.4"/>
<path d="M272.0,517.30 L276.8,514.80 L276.8,519.80 Z" fill="#000"/>
<text x="284.80" y="521.30" font-size="13" text-anchor="start" font-weight="normal" font-family="Liberation Serif, serif" style="font-family:'Liberation Serif',serif">α</text>
</svg>
</body></html>
